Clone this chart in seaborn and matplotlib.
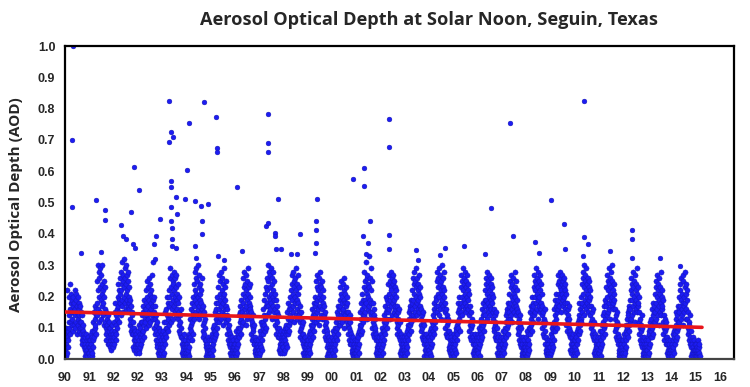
import numpy as np
import pandas as pd
import matplotlib
matplotlib.use("Agg")
import matplotlib.pyplot as plt
import seaborn as sns

# AOD diario (centesimas) por ciclo anual; 80 puntos por ciclo
ciclos = [
    "03 08 01 10 05 22 02 07 04 09 06 12 10 20 14 08 24 16 12 18 21 11 15 19 "
    "13 17 09 20 15 11 18 22 14 10 16 19 12 21 17 08 15 13 20 11 16 18 14 09 12 17 10 15 "
    "08 12 06 10 14 05 09 11 07 04 08 06 03 07 01 05 02 08 04 06 01 03 07 02 05 04 06 02",
    "02 06 01 04 08 03 05 01 07 02 09 04 06 12 09 15 07 13 10 17 11 08 14 16 "
    "18 25 14 22 30 16 28 12 20 26 15 23 29 19 13 27 21 17 24 30 14 22 18 25 11 20 16 23 "
    "12 08 15 10 06 13 09 11 07 14 05 10 09 05 12 07 04 10 06 08 03 11 05 07 09 04 08 06",
    "07 12 05 15 09 18 06 11 14 08 16 10 13 20 17 24 12 22 19 15 26 18 21 14 "
    "22 28 17 31 24 19 27 15 25 32 20 23 29 18 26 21 30 16 24 27 19 22 28 17 25 20 23 18 "
    "16 11 19 13 09 17 12 15 08 14 10 12 08 04 10 06 03 09 05 07 02 06 04 08 03 05 07 04",
    "05 09 03 11 06 02 08 04 10 07 12 05 08 14 06 12 17 09 15 11 19 07 13 16 "
    "12 18 22 10 16 25 14 20 13 23 17 11 26 19 15 21 12 24 18 16 22 14 20 27 13 17 31 19 "
    "15 10 20 08 13 17 06 11 14 09 05 12 04 08 02 06 10 03 07 01 05 09 03 06 02 04 08 05",
    "03 07 01 09 04 12 06 02 08 15 05 10 12 07 16 10 20 14 09 18 13 22 11 17 "
    "20 26 14 29 18 23 12 27 21 16 25 19 13 24 28 17 22 15 26 20 18 23 14 27 19 16 21 24 "
    "13 18 09 15 11 20 08 14 12 07 16 10 05 02 07 04 01 06 03 08 02 05 01 04 06 03 02 05",
    "02 05 01 04 07 02 03 06 01 08 04 10 07 13 09 16 11 06 18 12 15 08 20 14 "
    "17 24 13 28 19 22 15 29 21 26 14 18 25 20 16 30 23 17 27 13 21 19 24 15 22 18 26 16 "
    "14 09 17 11 07 15 12 08 13 06 10 05 04 01 06 03 02 05 01 04 07 02 03 06 01 04 02 03",
    "03 06 02 08 04 01 07 05 10 03 09 06 11 07 15 09 13 18 08 16 12 20 10 14 "
    "18 23 12 27 16 21 14 25 19 13 28 17 22 15 26 20 11 24 18 29 14 21 16 23 19 25 13 17 "
    "12 16 08 14 10 06 13 09 11 05 08 07 04 02 06 01 05 03 07 02 04 01 06 03 05 02 04 03",
    "02 05 01 07 03 09 04 06 02 10 05 08 09 14 07 12 17 10 15 08 19 13 11 16 "
    "15 21 12 26 18 23 14 28 20 16 24 11 22 27 17 19 13 25 21 15 29 18 23 14 20 17 24 16 "
    "13 08 15 11 06 12 09 14 07 10 05 11 05 02 07 03 01 06 04 02 05 01 03 06 02 04 01 03",
    "03 07 02 09 05 12 04 08 06 11 03 10 12 08 16 11 19 14 09 21 13 17 10 23 "
    "18 26 14 22 30 17 25 20 28 15 23 19 27 16 21 29 18 24 13 26 20 22 17 28 15 25 19 21 "
    "16 11 19 13 08 15 10 17 12 07 14 09 07 03 10 05 02 08 04 09 03 06 02 07 05 08 04 06",
    "04 09 02 07 10 03 06 08 05 11 04 09 10 15 08 13 18 11 16 09 20 14 12 17 "
    "16 22 13 27 19 24 15 21 28 17 25 12 23 18 26 20 14 29 22 16 24 19 13 27 21 18 23 15 "
    "14 09 17 12 07 15 10 13 08 11 06 12 05 02 08 04 01 06 03 07 02 05 01 04 06 03 05 02",
    "02 06 01 08 04 03 07 02 09 05 11 06 08 13 10 16 07 14 11 18 09 15 12 17 "
    "14 20 25 12 18 23 15 27 19 13 22 16 26 20 11 24 17 21 28 14 19 23 16 25 13 20 18 22 "
    "13 17 09 14 11 07 15 10 12 06 09 08 04 01 06 02 05 03 07 01 04 02 06 03 05 01 03 04",
    "03 07 02 05 09 01 06 04 08 03 10 05 07 12 09 15 06 13 10 17 08 14 11 16 "
    "13 19 23 11 17 21 14 25 18 12 20 15 24 16 22 10 19 26 14 18 21 13 23 17 20 15 12 18 "
    "11 15 08 13 10 06 12 09 14 05 08 07 05 02 06 03 01 07 04 02 05 01 03 06 02 04 01 03",
    "02 05 01 06 03 08 04 07 02 09 05 11 10 15 08 13 18 11 16 09 21 14 12 19 "
    "17 23 14 28 19 25 15 22 31 18 26 13 21 27 16 24 20 33 17 23 15 26 19 29 14 22 18 25 "
    "15 10 18 12 08 14 11 16 07 13 09 10 06 02 08 04 01 07 03 05 02 06 01 04 07 03 05 02",
    "03 08 01 06 10 04 07 02 09 05 12 06 09 14 11 17 08 15 12 20 10 16 13 19 "
    "18 24 15 27 21 16 25 19 13 23 28 17 22 26 14 20 24 18 27 15 21 19 25 16 23 17 20 22 "
    "14 10 17 12 08 15 11 13 07 16 09 12 06 02 08 03 05 01 07 04 02 06 03 05 01 04 07 03",
    "02 06 01 05 08 03 07 02 09 04 11 06 10 15 08 13 17 11 16 09 19 14 12 18 "
    "16 22 14 26 19 24 13 28 21 17 25 15 23 20 29 18 14 26 22 16 24 19 27 15 21 17 23 20 "
    "13 09 16 11 07 14 10 12 06 15 08 11 05 01 07 03 06 02 08 04 01 05 03 07 02 04 06 03",
    "03 07 02 06 09 04 08 01 10 05 12 07 09 14 11 16 08 13 18 10 15 12 20 17 "
    "19 25 15 28 21 17 26 23 14 29 20 24 16 27 22 18 25 13 30 21 19 26 17 23 20 28 16 22 "
    "15 10 18 13 08 16 11 14 07 12 09 13 07 03 09 04 02 06 05 08 01 04 07 02 06 03 05 04",
    "02 06 01 04 08 03 07 05 10 02 09 06 11 08 15 12 18 10 16 13 20 09 17 14 "
    "18 23 15 27 20 25 14 22 29 17 24 19 26 16 21 28 18 23 15 25 20 27 17 22 19 24 16 21 "
    "14 09 17 11 07 15 12 10 06 13 08 11 05 02 07 03 01 06 04 08 02 05 03 06 01 04 07 03",
    "03 08 02 06 10 04 07 01 09 05 11 06 08 13 10 16 07 14 11 18 09 15 12 19 "
    "17 22 14 26 19 24 13 21 28 16 23 18 25 15 20 27 17 22 14 24 19 26 16 21 18 23 15 20 "
    "13 09 16 10 07 14 11 12 06 15 08 10 06 02 08 04 01 07 03 05 02 06 04 01 05 03 07 02",
    "02 05 01 07 03 09 04 06 02 08 05 10 09 14 07 12 16 10 15 08 18 13 11 17 "
    "15 21 13 25 18 23 14 27 20 16 24 12 22 19 26 17 21 15 28 20 18 23 14 25 17 22 19 16 "
    "12 08 15 10 06 13 09 11 05 14 07 10 04 01 06 02 05 03 07 01 04 02 06 03 05 02 04 01",
    "03 07 01 05 09 02 06 04 08 03 10 05 10 15 08 13 17 11 16 09 20 14 12 18 "
    "17 23 14 27 20 25 15 22 29 18 24 16 26 21 13 28 19 23 17 25 20 27 15 22 18 24 16 21 "
    "14 10 17 12 08 15 11 13 07 16 09 12 05 02 07 03 01 06 04 02 05 01 03 06 02 04 01 03",
    "04 08 02 06 10 03 07 05 11 04 09 06 12 16 09 14 19 11 17 13 21 10 15 18 "
    "19 24 16 27 21 25 17 23 28 20 26 15 22 24 18 27 21 19 25 17 23 20 26 18 22 24 16 21 "
    "15 11 18 13 09 16 12 14 08 17 10 13 07 03 09 05 02 08 04 06 03 07 01 05 08 04 06 03",
    "02 06 01 04 08 03 07 02 09 05 12 06 10 14 08 13 18 11 16 09 20 13 12 17 "
    "18 24 15 28 21 26 14 23 30 19 25 17 27 22 16 29 20 24 18 26 21 15 25 19 23 17 22 20 "
    "14 10 17 12 08 15 11 13 07 16 09 12 06 02 08 03 01 07 04 05 02 06 01 04 07 03 05 02",
    "01 05 02 07 03 09 04 06 01 08 05 11 09 14 07 12 17 10 15 08 19 13 11 18 "
    "17 23 14 27 20 25 15 22 29 18 24 16 26 21 13 28 19 23 17 25 20 30 16 22 18 24 19 21 "
    "13 09 16 11 07 14 10 12 06 15 08 11 05 01 07 03 02 06 04 01 05 02 03 06 01 04 02 03",
    "02 06 01 05 08 03 07 02 09 04 11 06 08 13 10 15 07 14 11 17 09 16 12 19 "
    "16 22 13 26 19 24 14 21 28 17 23 15 25 20 12 27 18 22 16 24 19 29 15 21 17 23 18 20 "
    "12 08 15 10 06 13 09 11 05 14 07 10 04 01 06 02 05 03 07 01 04 02 06 03 05 01 04 02",
    "03 07 01 06 09 02 08 04 10 05 12 07 09 13 07 11 16 10 14 08 18 12 15 17 "
    "15 21 12 25 18 23 13 20 27 16 22 14 24 19 11 26 17 21 15 23 18 28 14 20 16 22 17 19 "
    "12 08 14 10 06 13 09 11 05 12 07 10 05 02 07 03 01 06 04 02 05 01 03 06 02 04 01 03",
    "02 05 01 06 03 08 04 07 02 09 05 10 08 13 06 11 15 09 14 07 17 12 10 16 "
    "15 20 12 24 17 22 13 19 26 16 21 14 25 18 11 27 17 20 15 23 18 28 13 21 16 24 19 22 "
    "13 08 15 10 06 12 09 11 05 14 07 09 04 01 06 02 05 03 07 01 04 02 06 03 05 01 03 02",
    "03 01 05 02 04 01 06 02 03 01 04 02 05 01",
]
puntos_por_ciclo = 80

# valores aislados altos
atip_t = [0.34, 0.29, 0.29, 0.66, 1.29, 1.65, 1.66, 1.49, 2.31, 2.41, 2.52, 2.70,
          2.82, 2.90, 2.86, 3.04, 3.66, 3.75, 3.93, 3.69, 4.30, 4.37, 4.47, 4.28,
          4.37, 4.37, 4.58, 4.35, 4.41, 4.43, 4.43, 4.58, 4.62, 4.37, 4.95, 5.03,
          5.13, 5.34, 5.61, 5.65, 5.64, 5.89, 5.34, 5.40, 5.71, 6.23, 6.26, 6.28,
          6.30, 6.57, 7.08, 7.30, 8.29, 8.38, 8.65, 8.65, 8.68, 8.36, 8.38, 8.36,
          8.79, 8.91, 9.33, 9.57, 9.67, 10.40, 10.36, 10.36, 10.33, 10.29, 11.87,
          12.31, 12.32, 12.28, 12.56, 12.49, 12.42, 13.34, 13.35, 13.34, 13.36,
          14.48, 14.55, 15.68, 15.45, 16.44, 17.30, 17.55, 18.34, 18.47, 19.37,
          19.53, 20.02, 20.55, 20.63, 21.38, 21.38, 21.57, 21.37, 22.46, 23.36,
          23.39, 23.36, 24.53, 25.35]
atip_aod = [1.00, 0.70, 0.485, 0.34, 0.51, 0.476, 0.444, 0.342, 0.428, 0.394, 0.383,
            0.471, 0.367, 0.356, 0.615, 0.54, 0.367, 0.394, 0.447, 0.319, 0.824,
            0.726, 0.71, 0.695, 0.569, 0.551, 0.517, 0.442, 0.418, 0.385, 0.361,
            0.356, 0.465, 0.485, 0.513, 0.604, 0.755, 0.506, 0.49, 0.442, 0.399,
            0.495, 0.361, 0.324, 0.822, 0.774, 0.673, 0.663, 0.329, 0.317, 0.551,
            0.345, 0.426, 0.436, 0.404, 0.394, 0.351, 0.783, 0.689, 0.661, 0.511,
            0.353, 0.335, 0.335, 0.399, 0.513, 0.442, 0.412, 0.372, 0.340, 0.576,
            0.612, 0.553, 0.394, 0.442, 0.372, 0.335, 0.766, 0.679, 0.396, 0.353,
            0.348, 0.317, 0.356, 0.333, 0.362, 0.335, 0.482, 0.755, 0.394, 0.375,
            0.340, 0.508, 0.433, 0.351, 0.824, 0.390, 0.369, 0.329, 0.345, 0.413,
            0.383, 0.324, 0.324, 0.299]

# linea de tendencia (extremos leidos)
tend_t = [0.0, 26.26]
tend_aod = [0.151, 0.102]

etiquetas = ["90", "91", "92", "92", "93", "94", "95", "96", "97", "98", "99",
             "00", "01", "02", "03", "04", "05", "06", "07", "08", "09", "10",
             "11", "12", "13", "14", "15", "16"]

filas = []
for c, s in enumerate(ciclos):
    for k, v in enumerate(s.split()):
        filas.append((c + (k + 0.5) / puntos_por_ciclo, int(v) / 100))
datos = pd.DataFrame(filas, columns=["t", "aod"])
atipicos = pd.DataFrame({"t": atip_t, "aod": atip_aod})

sns.set_style("white")
plt.rcParams["font.family"] = ["Liberation Sans", "DejaVu Sans"]

fig = plt.figure(figsize=(7.5, 3.87), dpi=100)
ax = fig.add_axes([0.0867, 0.0716, 0.892, 0.8095])

azul = "#1c1cf2"
sns.scatterplot(data=datos, x="t", y="aod", s=14, color=azul, edgecolor="#1414b4",
                linewidth=0.3, ax=ax, legend=False, zorder=2)
sns.scatterplot(data=atipicos, x="t", y="aod", s=12, color=azul, edgecolor="#1010a8",
                linewidth=0.3, ax=ax, legend=False, zorder=2)
sns.lineplot(x=tend_t, y=tend_aod, color="#e8161b", linewidth=2.6, ax=ax, zorder=3)

ax.set_xlim(0, 27.58)
ax.set_ylim(0, 1.0)
ax.set_xticks(range(len(etiquetas)))
ax.set_xticklabels(etiquetas)
yt = np.round(np.arange(0, 1.01, 0.1), 1)
ax.set_yticks(yt)
ax.set_yticklabels([f"{v:.1f}" for v in yt])
ax.set_xlabel("")
ax.set_ylabel("")
ax.tick_params(axis="x", direction="in", length=3, width=0.8, pad=9, labelsize=9)
ax.tick_params(axis="y", direction="out", length=3, width=0.8, pad=4, labelsize=9)
for lab in ax.get_xticklabels() + ax.get_yticklabels():
    lab.set_fontweight("bold")
for lado in ["left", "right", "top", "bottom"]:
    ax.spines[lado].set_color("black")
    ax.spines[lado].set_linewidth(1.6)
ax.spines["bottom"].set_color("#444444")

fig.text(0.572, 0.948, "Aerosol Optical Depth at Solar Noon, Seguin, Texas",
         ha="center", va="center", fontsize=13.1, fontweight="bold",
         family=["Open Sans", "DejaVu Sans"])
fig.text(0.021, 0.47, "Aerosol Optical Depth (AOD)", rotation=90, ha="center",
         va="center", fontsize=11, fontweight="bold", family=["Open Sans", "DejaVu Sans"])

fig.savefig("out.png", dpi=100)
